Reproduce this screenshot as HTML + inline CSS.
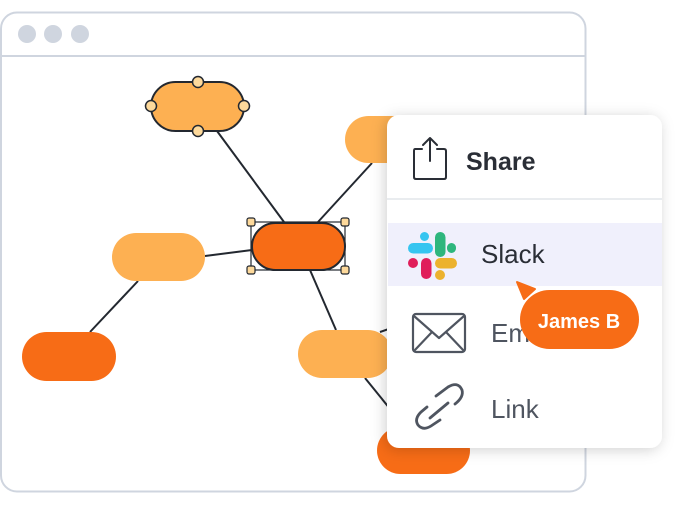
<!DOCTYPE html>
<html><head><style>
body{margin:0;width:680px;height:510px;background:#fff;overflow:hidden;position:relative;font-family:"Liberation Sans",sans-serif}
</style></head><body>
<svg width="680" height="510" style="position:absolute;left:0;top:0">
<defs>
<filter id="sh" x="-20%" y="-20%" width="140%" height="140%"><feDropShadow dx="-2" dy="2" stdDeviation="7" flood-color="#000" flood-opacity="0.18"/></filter>
</defs>
<rect x="1" y="12.5" width="584.5" height="479" rx="16" fill="#fff" stroke="#CFD5DF" stroke-width="2"/>
<line x1="1" y1="56" x2="585" y2="56" stroke="#CFD5DF" stroke-width="2"/>
<circle cx="27" cy="34" r="9" fill="#CFD5DF"/><circle cx="53" cy="34" r="9" fill="#CFD5DF"/><circle cx="80" cy="34" r="9" fill="#CFD5DF"/>
<g stroke="#232830" stroke-width="2" fill="none">
<line x1="217" y1="131" x2="284" y2="222"/>
<line x1="318" y1="222" x2="372" y2="163"/>
<line x1="205" y1="256" x2="252" y2="250"/>
<line x1="138" y1="281" x2="90" y2="332"/>
<line x1="310" y1="270" x2="336" y2="330"/>
<line x1="365" y1="378" x2="395" y2="415"/>
<line x1="380" y1="332" x2="400" y2="325"/>
</g>
<rect x="345" y="116" width="94" height="47" rx="23.5" fill="#FDB052"/>
<rect x="151" y="82" width="93" height="49" rx="24.5" fill="#FDB052" stroke="#232830" stroke-width="2"/>
<g fill="#FDD99B" stroke="#232830" stroke-width="1.5">
<circle cx="198" cy="82" r="5.5"/><circle cx="151" cy="106" r="5.5"/><circle cx="244" cy="106" r="5.5"/><circle cx="198" cy="131" r="5.5"/>
</g>
<rect x="112" y="233" width="93" height="48" rx="24" fill="#FDB052"/>
<rect x="252" y="223" width="93" height="47" rx="23.5" fill="#F76C16" stroke="#232830" stroke-width="2"/>
<rect x="251" y="222" width="94" height="48" fill="none" stroke="#232830" stroke-width="1.2"/>
<g fill="#FDD99B" stroke="#232830" stroke-width="1.2">
<rect x="247" y="218" width="8" height="8" rx="2"/><rect x="341" y="218" width="8" height="8" rx="2"/><rect x="247" y="266" width="8" height="8" rx="2"/><rect x="341" y="266" width="8" height="8" rx="2"/>
</g>
<rect x="22" y="332" width="94" height="49" rx="24.5" fill="#F76C16"/>
<rect x="298" y="330" width="94" height="48" rx="24" fill="#FDB052"/>
<rect x="377" y="427" width="93" height="47" rx="23.5" fill="#F76C16"/>
<rect x="387" y="115" width="275" height="333" rx="12" fill="#fff" filter="url(#sh)"/>
<line x1="387" y1="199" x2="662" y2="199" stroke="#E2E5EA" stroke-width="1.5"/>
<rect x="388" y="223" width="274" height="63" fill="#F0F0FC"/>
<g stroke="#2A2E36" stroke-width="2" fill="none" stroke-linecap="round" stroke-linejoin="round">
<path d="M422 149 H415 Q414 149 414 151 V177 Q414 179 416 179 H444 Q446 179 446 177 V151 Q446 149 444 149 H437"/>
<path d="M430 161 V138 M423 145 L430 138 L437 145"/>
</g>
<text x="466" y="170" font-size="25" font-weight="bold" fill="#2A2E36">Share</text>
<g>
<rect x="408" y="243" width="25" height="10.5" rx="5.25" fill="#36C5F0"/>
<rect x="420" y="232" width="9" height="9" rx="4.5" fill="#36C5F0"/>
<rect x="435" y="232" width="10.5" height="25" rx="5.25" fill="#2EB67D"/>
<rect x="447" y="243" width="9" height="10" rx="4.5" fill="#2EB67D"/>
<rect x="408" y="258" width="10" height="10" rx="5" fill="#E01E5A"/>
<rect x="421" y="258" width="10.5" height="21" rx="5.25" fill="#E01E5A"/>
<rect x="435" y="258" width="22" height="10.5" rx="5.25" fill="#ECB22E"/>
<rect x="435" y="270" width="10" height="10" rx="5" fill="#ECB22E"/>
</g>
<text x="481" y="263" font-size="26" fill="#2A2E36">Slack</text>
<g stroke="#4F5560" stroke-width="2.2" fill="none" stroke-linejoin="round">
<rect x="413" y="314" width="52" height="38" rx="3"/>
<path d="M414 316 L439 338 L464 316 M414 351 L432 332 M464 351 L446 332"/>
</g>
<g stroke="#4F5560" stroke-width="2.8" fill="none" stroke-linecap="round">
<path d="M436 396 L448 387 Q458 381 462 390 Q464 397 455 404"/>
<path d="M430 418 L448 403"/>
<path d="M427 407 L421 412 Q414 419 418 425 Q423 431 431 426 L440 420"/>
</g>
<text x="491" y="342" font-size="26" fill="#4F5560">Em</text>
<text x="491" y="418" font-size="26" fill="#4F5560">Link</text>
<path d="M517 282 L535 289 L524 299 Z" fill="#F76C16" stroke="#F76C16" stroke-linejoin="round" stroke-width="2"/>
<rect x="520" y="290" width="119" height="59" rx="29.5" fill="#F76C16"/>
<text x="579" y="328" font-size="20" font-weight="bold" fill="#fff" text-anchor="middle">James B</text>
</svg>
</body></html>
